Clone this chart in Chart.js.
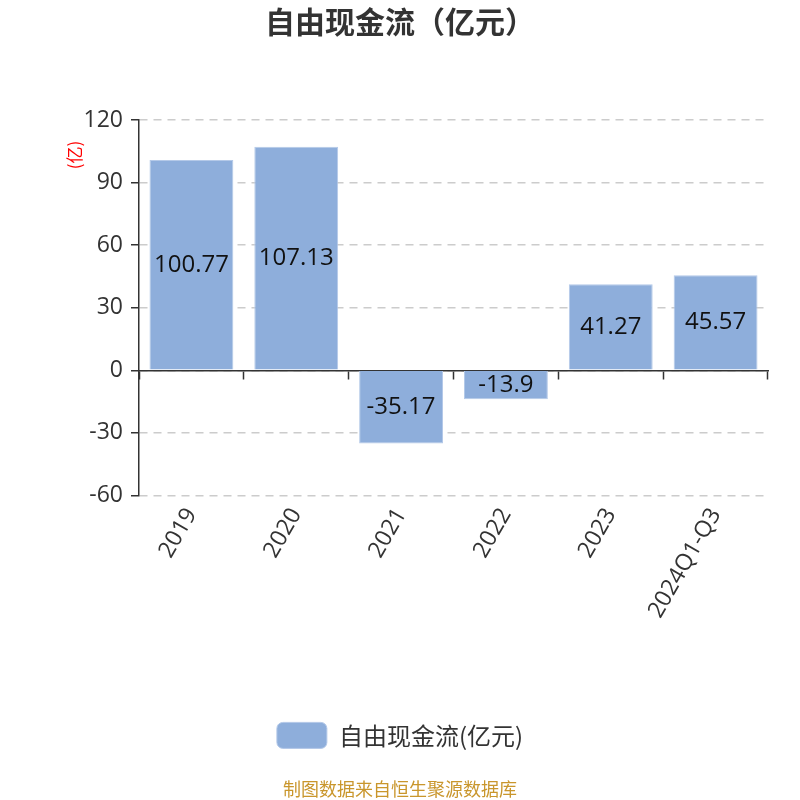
<!DOCTYPE html>
<html>
<head>
<meta charset="utf-8">
<script src="https://cdn.jsdelivr.net/npm/chart.js@4/dist/chart.umd.min.js"></script>
<style>html,body{margin:0;padding:0;background:#fff;}canvas{display:block;}</style>
</head>
<body>
<canvas id="c" width="800" height="800"></canvas>
<script>
const categories = ['2019', '2020', '2021', '2022', '2023', '2024Q1-Q3'];
const freeCashFlow = [100.77, 107.13, -35.17, -13.9, 41.27, 45.57];
const seriesName = '自由现金流(亿元)';
const chartTitle = '自由现金流（亿元）';
const unitLabel = '(亿)';
const sourceText = '制图数据来自恒生聚源数据库';
const yMin = -60, yMax = 120, yStep = 30;

const CJK = "'Noto Sans CJK SC', 'Noto Sans', sans-serif";
const NUM = "'Open Sans', 'Noto Sans CJK SC', sans-serif";

const valueLabels = {
  id: 'valueLabels',
  afterDatasetsDraw(chart) {
    const ctx = chart.ctx;
    const meta = chart.getDatasetMeta(0);
    ctx.save();
    ctx.font = '24px ' + NUM;
    ctx.fillStyle = '#111';
    ctx.textAlign = 'center';
    ctx.textBaseline = 'middle';
    meta.data.forEach((el, i) => {
      const v = chart.data.datasets[0].data[i];
      ctx.fillText(String(v), el.x, (el.y + el.base) / 2);
    });
    ctx.restore();
  }
};

const unitPlugin = {
  id: 'unitPlugin',
  afterDraw(chart) {
    const ctx = chart.ctx;
    ctx.save();
    ctx.translate(75, chart.chartArea.top + 35);
    ctx.rotate(-Math.PI / 2);
    ctx.font = '17px ' + CJK;
    ctx.fillStyle = '#ff0000';
    ctx.textAlign = 'center';
    ctx.textBaseline = 'middle';
    ctx.fillText(unitLabel, 0, 0);
    ctx.restore();
  }
};

new Chart(document.getElementById('c'), {
  type: 'bar',
  data: {
    labels: categories,
    datasets: [{
      label: seriesName,
      data: freeCashFlow,
      backgroundColor: '#8eaedb',
      borderColor: '#b4c9e8',
      borderWidth: 1,
      categoryPercentage: 0.8,
      barPercentage: 1.0
    }]
  },
  options: {
    responsive: false,
    devicePixelRatio: 1,
    animation: false,
    layout: { padding: { left: 16, right: 16, top: 0, bottom: 0 } },
    plugins: {
      title: {
        display: true,
        text: chartTitle,
        color: '#333',
        font: { family: CJK, size: 30, weight: 'bold' },
        padding: { top: 4, bottom: 80 }
      },
      subtitle: {
        display: true,
        text: sourceText,
        position: 'bottom',
        color: '#c9962c',
        font: { family: CJK, size: 18 },
        padding: { top: 20, bottom: 0 }
      },
      legend: {
        position: 'bottom',
        labels: {
          boxWidth: 50,
          boxHeight: 26,
          useBorderRadius: true,
          borderRadius: 6,
          color: '#333',
          font: { family: CJK, size: 24 },
          padding: 10
        }
      },
      tooltip: { enabled: false }
    },
    scales: {
      x: {
        type: 'category',
        offset: true,
        grid: { display: false },
        border: { display: false },
        ticks: {
          color: '#333',
          font: { family: NUM, size: 23 },
          minRotation: 60,
          maxRotation: 60,
          padding: 0
        },
        afterFit(s) { s.height = 217; }
      },
      x2: {
        type: 'category',
        labels: categories,
        position: { y: 0 },
        offset: true,
        grid: { drawOnChartArea: false, drawTicks: true, tickLength: 8, tickColor: '#333', tickWidth: 1.5, offset: true },
        border: { display: true, color: '#333', width: 1.5 },
        ticks: { display: false }
      },
      y: {
        min: yMin,
        max: yMax,
        ticks: {
          stepSize: yStep,
          color: '#333',
          font: { family: NUM, size: 23 },
          padding: 8
        },
        grid: { color: '#cccccc', lineWidth: 1.5, tickLength: 8, tickColor: '#333', tickWidth: 1.5 },
        border: { display: true, color: '#333', width: 1.5, dash: [8, 6] },
        afterFit(s) { s.width = 123; }
      },
      yRight: {
        type: 'linear',
        position: 'right',
        display: true,
        min: yMin,
        max: yMax,
        grid: { display: false },
        border: { display: false },
        ticks: { display: false },
        afterFit(s) { s.width = 16; }
      }
    }
  },
  plugins: [valueLabels, unitPlugin]
});
</script>
</body>
</html>
